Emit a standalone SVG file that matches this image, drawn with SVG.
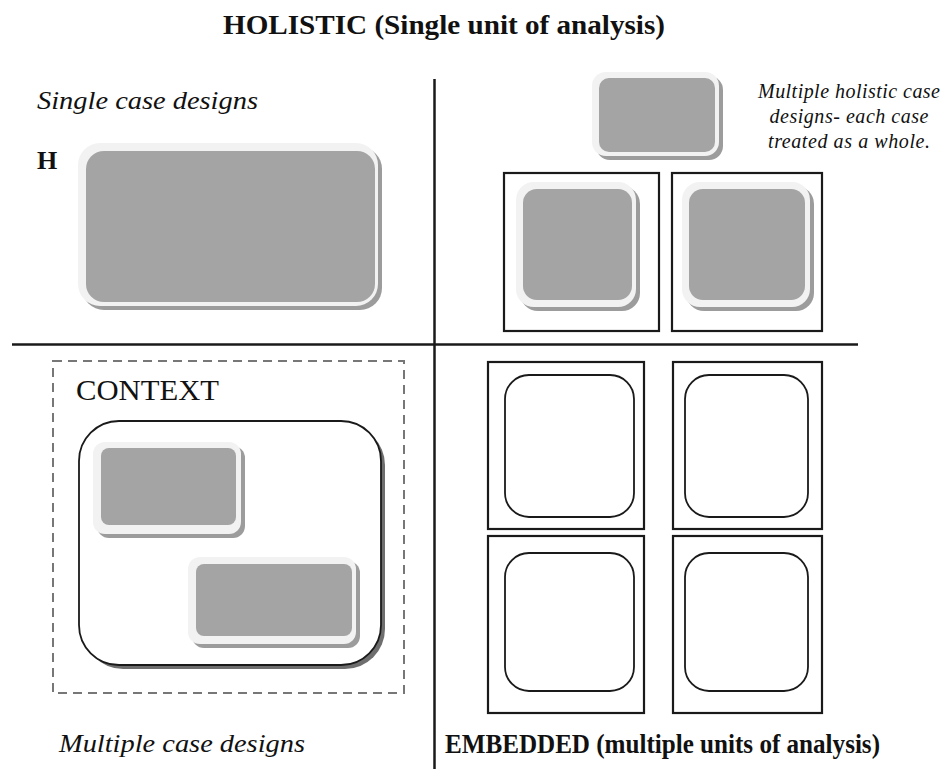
<svg xmlns="http://www.w3.org/2000/svg" width="943" height="769" viewBox="0 0 943 769">
  <style>
    .serif { font-family: "Liberation Serif", "Times New Roman", serif; fill: #111; }
    .bold { font-weight: bold; }
    .ital { font-style: italic; }
    .axis { stroke: #1a1a1a; stroke-width: 2.5; fill: none; }
    .shadow { fill: #9c9c9c; }
    .rim { fill: #f2f2f2; }
    .core { fill: #a4a4a4; }
    .frame { fill: none; stroke: #1a1a1a; stroke-width: 2.2; }
    .unit { fill: #fff; stroke: #1a1a1a; stroke-width: 1.8; }
    .context { fill: none; stroke: #777; stroke-width: 2; stroke-dasharray: 9 6; }
  </style>
  <rect width="943" height="769" fill="#fff"/>

  <!-- quadrant axes -->
  <g id="connectors">
    <line class="axis" x1="434.5" y1="79" x2="434.5" y2="769"/>
    <line class="axis" x1="12" y1="344.5" x2="858" y2="344.5"/>
  </g>

  <!-- headings -->
  <text class="serif bold" x="223" y="34" font-size="28" textLength="442" lengthAdjust="spacingAndGlyphs">HOLISTIC (Single unit of analysis)</text>
  <text class="serif ital" x="37" y="109" font-size="25" textLength="221" lengthAdjust="spacingAndGlyphs">Single case designs</text>
  <text class="serif bold" x="37" y="169" font-size="26">H</text>
  <text class="serif ital" x="59" y="752" font-size="26" textLength="246" lengthAdjust="spacingAndGlyphs">Multiple case designs</text>
  <text class="serif bold" x="445" y="753" font-size="27" textLength="435" lengthAdjust="spacingAndGlyphs">EMBEDDED (multiple units of analysis)</text>
  <g class="serif ital" font-size="20" text-anchor="middle" lengthAdjust="spacingAndGlyphs">
    <text x="849" y="98" textLength="182">Multiple holistic case</text>
    <text x="849" y="123" textLength="159">designs- each case</text>
    <text x="849" y="148" textLength="162">treated as a whole.</text>
  </g>

  <!-- single holistic case -->
  <g id="single-case">
    <rect class="shadow" x="82" y="147" width="300" height="163" rx="22"/>
    <rect class="rim" x="78" y="143" width="300" height="163" rx="22"/>
    <rect class="core" x="86" y="151" width="289" height="151" rx="18"/>
  </g>

  <!-- multiple holistic cases -->
  <g id="holistic-top">
    <rect class="shadow" x="596" y="76" width="127" height="84" rx="14"/>
    <rect class="rim" x="592" y="72" width="127" height="84" rx="14"/>
    <rect class="core" x="599" y="78" width="116" height="74" rx="10"/>
  </g>
  <g id="holistic-left">
    <rect class="frame" x="504" y="173" width="155" height="158"/>
    <rect class="shadow" x="520" y="186" width="120" height="125" rx="18"/>
    <rect class="rim" x="516" y="182" width="120" height="125" rx="18"/>
    <rect class="core" x="523" y="189" width="109" height="111" rx="14"/>
  </g>
  <g id="holistic-right">
    <rect class="frame" x="672" y="173" width="150" height="158"/>
    <rect class="shadow" x="686" y="186" width="128" height="125" rx="18"/>
    <rect class="rim" x="682" y="182" width="128" height="125" rx="18"/>
    <rect class="core" x="689" y="189" width="116" height="111" rx="14"/>
  </g>

  <!-- multiple cases within a context -->
  <g id="context">
    <rect class="context" x="53" y="361" width="351" height="332"/>
    <text class="serif" x="76" y="400" font-size="29" textLength="143" lengthAdjust="spacingAndGlyphs">CONTEXT</text>
    <rect fill="#6e6e6e" x="83" y="425" width="302" height="244" rx="40"/>
    <rect class="unit" x="79" y="421" width="302" height="244" rx="40"/>
  </g>
  <g id="context-case-1">
    <rect class="shadow" x="97" y="446" width="148" height="92" rx="12"/>
    <rect class="rim" x="93" y="442" width="148" height="92" rx="12"/>
    <rect class="core" x="101" y="448" width="135" height="77" rx="8"/>
  </g>
  <g id="context-case-2">
    <rect class="shadow" x="192" y="561" width="168" height="87" rx="12"/>
    <rect class="rim" x="188" y="557" width="168" height="87" rx="12"/>
    <rect class="core" x="196" y="564" width="156" height="72" rx="8"/>
  </g>

  <!-- embedded units -->
  <g id="embedded-tl">
    <rect class="frame" x="488" y="362" width="156" height="167"/>
    <rect class="unit" x="505" y="375" width="129" height="142" rx="24"/>
  </g>
  <g id="embedded-tr">
    <rect class="frame" x="673" y="362" width="149" height="167"/>
    <rect class="unit" x="685" y="375" width="123" height="142" rx="24"/>
  </g>
  <g id="embedded-bl">
    <rect class="frame" x="488" y="536" width="156" height="177"/>
    <rect class="unit" x="505" y="553" width="129" height="138" rx="24"/>
  </g>
  <g id="embedded-br">
    <rect class="frame" x="673" y="536" width="149" height="177"/>
    <rect class="unit" x="685" y="553" width="123" height="138" rx="24"/>
  </g>
</svg>
